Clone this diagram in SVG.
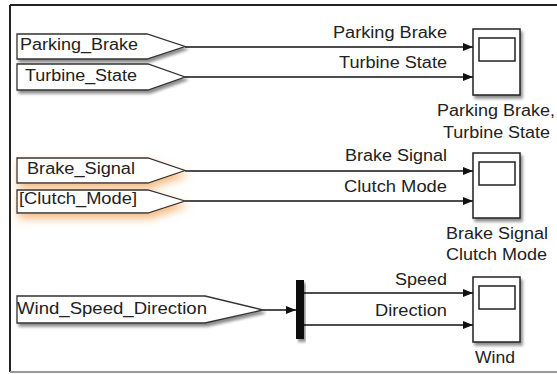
<svg xmlns="http://www.w3.org/2000/svg" width="557" height="374" viewBox="0 0 557 374">
<style>
  .lbl { font-family: "Liberation Sans", Arial, sans-serif; font-size: 16px; fill: #222; }
  .end { text-anchor: end; }
  .mid { text-anchor: middle; }
  .goto { fill: #fff; stroke: #333; stroke-width: 1.3; }
  .scope { fill: #fff; stroke: #222; stroke-width: 1.5; }
  .screen { fill: #fff; stroke: #222; stroke-width: 1.5; }
  .sig { fill: none; stroke: #111; stroke-width: 1.4; marker-end: url(#arr); }
  .sigplain { fill: none; stroke: #111; stroke-width: 1.4; }
</style>
<defs>
  <marker id="arr" markerWidth="10" markerHeight="8" refX="10" refY="4" orient="auto" markerUnits="userSpaceOnUse">
    <path d="M0,0 L10,4 L0,8 Z" fill="#111"/>
  </marker>
  <filter id="shadow" x="-10%" y="-30%" width="130%" height="180%">
    <feGaussianBlur in="SourceAlpha" stdDeviation="1.5"/>
    <feOffset dx="2" dy="3" result="b"/>
    <feComponentTransfer><feFuncA type="linear" slope="0.45"/></feComponentTransfer>
    <feMerge><feMergeNode/><feMergeNode in="SourceGraphic"/></feMerge>
  </filter>
  <filter id="glow" x="-20%" y="-60%" width="140%" height="240%">
    <feGaussianBlur in="SourceAlpha" stdDeviation="4"/>
    <feOffset dx="2" dy="5" result="b"/>
    <feFlood flood-color="#f0a050" flood-opacity="0.7"/>
    <feComposite in2="b" operator="in"/>
    <feMerge><feMergeNode/><feMergeNode in="SourceGraphic"/></feMerge>
  </filter>
</defs>
<rect x="0" y="0" width="557" height="374" fill="#fff"/>
<g id="frame">
  <path d="M10,5 H557" stroke="#222" stroke-width="2" fill="none"/>
  <path d="M10,5 V372" stroke="#222" stroke-width="2" fill="none"/>
  <path d="M10,372 H557" stroke="#999" stroke-width="2" fill="none"/>
</g>
<g id="connectors">
  <path class="sig" d="M185,47 H473"/>
  <path class="sig" d="M185,77 H473"/>
  <path class="sig" d="M185,171 H473"/>
  <path class="sig" d="M185,201 H473"/>
  <path class="sig" d="M263,310 H296"/>
  <path class="sig" d="M304,293 H473"/>
  <path class="sig" d="M304,325 H473"/>
  <text class="lbl end" x="447" y="38" textLength="114" lengthAdjust="spacingAndGlyphs">Parking Brake</text>
  <text class="lbl end" x="447" y="68" textLength="108" lengthAdjust="spacingAndGlyphs">Turbine State</text>
  <text class="lbl end" x="447" y="161" textLength="102" lengthAdjust="spacingAndGlyphs">Brake Signal</text>
  <text class="lbl end" x="447" y="192" textLength="103" lengthAdjust="spacingAndGlyphs">Clutch Mode</text>
  <text class="lbl end" x="447" y="285" textLength="52" lengthAdjust="spacingAndGlyphs">Speed</text>
  <text class="lbl end" x="447" y="316" textLength="72" lengthAdjust="spacingAndGlyphs">Direction</text>
</g>
<g id="goto_parking_brake">
  <polygon class="goto" filter="url(#shadow)" points="17,34 147,34 185,46.5 147,59 17,59"/>
  <text class="lbl" x="20" y="50" textLength="118" lengthAdjust="spacingAndGlyphs">Parking_Brake</text>
</g>
<g id="goto_turbine_state">
  <polygon class="goto" filter="url(#shadow)" points="17,64 148,64 185,77 148,90 17,90"/>
  <text class="lbl" x="25" y="81" textLength="112" lengthAdjust="spacingAndGlyphs">Turbine_State</text>
</g>
<g id="goto_brake_signal">
  <polygon class="goto" filter="url(#glow)" points="17,158 148,158 185,170.5 148,183 17,183"/>
  <text class="lbl" x="27" y="174" textLength="108" lengthAdjust="spacingAndGlyphs">Brake_Signal</text>
</g>
<g id="goto_clutch_mode">
  <polygon class="goto" filter="url(#glow)" points="17,190 148,190 185,201 148,213 17,213"/>
  <text class="lbl" x="19" y="204" textLength="118" lengthAdjust="spacingAndGlyphs">[Clutch_Mode]</text>
</g>
<g id="goto_wind">
  <polygon class="goto" filter="url(#shadow)" points="17,296 205,296 263,310 205,323 17,323"/>
  <text class="lbl" x="17" y="314" textLength="190" lengthAdjust="spacingAndGlyphs">Wind_Speed_Direction</text>
</g>
<g id="demux">
  <rect x="296" y="280" width="8" height="59" fill="#111" filter="url(#shadow)"/>
</g>
<g id="scope_parking_turbine">
  <rect class="scope" x="473" y="29" width="47" height="66" filter="url(#shadow)"/>
  <rect class="screen" x="479" y="38" width="36" height="23"/>
  <text class="lbl mid" x="496" y="116" textLength="118" lengthAdjust="spacingAndGlyphs">Parking Brake,</text>
  <text class="lbl mid" x="496.5" y="138" textLength="107" lengthAdjust="spacingAndGlyphs">Turbine State</text>
</g>
<g id="scope_brake_clutch">
  <rect class="scope" x="473" y="153" width="47" height="65" filter="url(#shadow)"/>
  <rect class="screen" x="479" y="162" width="36" height="23"/>
  <text class="lbl mid" x="497" y="239" textLength="102" lengthAdjust="spacingAndGlyphs">Brake Signal</text>
  <text class="lbl mid" x="496.5" y="260" textLength="101" lengthAdjust="spacingAndGlyphs">Clutch Mode</text>
</g>
<g id="scope_wind">
  <rect class="scope" x="473" y="277" width="47" height="65" filter="url(#shadow)"/>
  <rect class="screen" x="479" y="286" width="36" height="23"/>
  <text class="lbl mid" x="495" y="363" textLength="40" lengthAdjust="spacingAndGlyphs">Wind</text>
</g>
</svg>
